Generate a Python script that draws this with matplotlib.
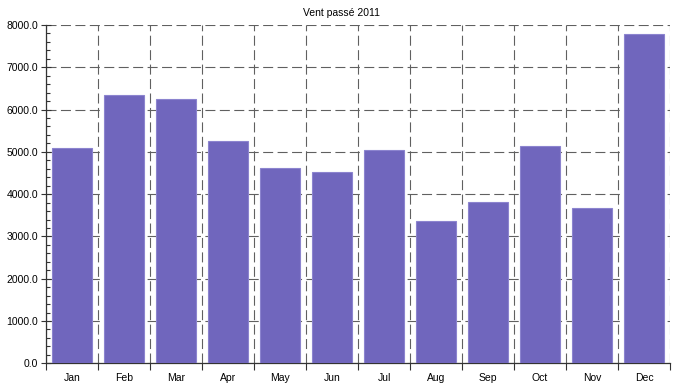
import numpy as np
import matplotlib.pyplot as plt
from matplotlib.ticker import MultipleLocator, FormatStrFormatter

# Donnees
mois = ["Jan", "Feb", "Mar", "Apr", "May", "Jun",
        "Jul", "Aug", "Sep", "Oct", "Nov", "Dec"]
vent = [5094, 6335, 6258, 5258, 4618, 4525,
        5055, 3376, 3815, 5144, 3664, 7788]

plt.rcParams['font.family'] = ['Liberation Sans', 'DejaVu Sans']

fig = plt.figure(figsize=(6.77, 3.86), dpi=100)
ax = fig.add_axes([46 / 677, 1 - 363.3 / 386, (670 - 46) / 677, (363.3 - 25) / 386])

x = np.arange(len(mois))
ax.bar(x, vent, width=0.78, color="#7066bd", edgecolor="#8c84cf", linewidth=0.8, zorder=3)

ax.set_xlim(-0.5, len(mois) - 0.5)
ax.set_ylim(0, 8000)

# grille aux limites des categories, etiquettes au centre
ax.set_xticks(np.arange(len(mois) + 1) - 0.5)
ax.set_xticklabels([])
ax.set_xticks(x, minor=True)
ax.set_xticklabels(mois, minor=True)
ax.tick_params(axis="x", which="major", direction="out", length=5, width=0.8, color="#333333")
ax.tick_params(axis="x", which="minor", length=0, pad=7, labelsize=7.5)

ax.yaxis.set_major_locator(MultipleLocator(1000))
ax.yaxis.set_minor_locator(MultipleLocator(200))
ax.yaxis.set_major_formatter(FormatStrFormatter("%.1f"))
ax.tick_params(axis="y", which="major", direction="inout", length=7, width=0.8,
               color="#333333", labelsize=7.5, pad=2)
ax.tick_params(axis="y", which="minor", direction="in", length=3, width=0.8, color="#333333")

ax.grid(True, which="major", color="#606060", linestyle=(0, (9, 4)), linewidth=0.8)
ax.set_axisbelow(True)

for s in ["top", "right"]:
    ax.spines[s].set_visible(False)
for s in ["left", "bottom"]:
    ax.spines[s].set_color("#333333")
    ax.spines[s].set_linewidth(0.9)

fig.text(0.505, 1 - 13 / 386, "Vent passé 2011", ha="center", va="center", fontsize=7.5)

plt.savefig("out.png", dpi=100)
